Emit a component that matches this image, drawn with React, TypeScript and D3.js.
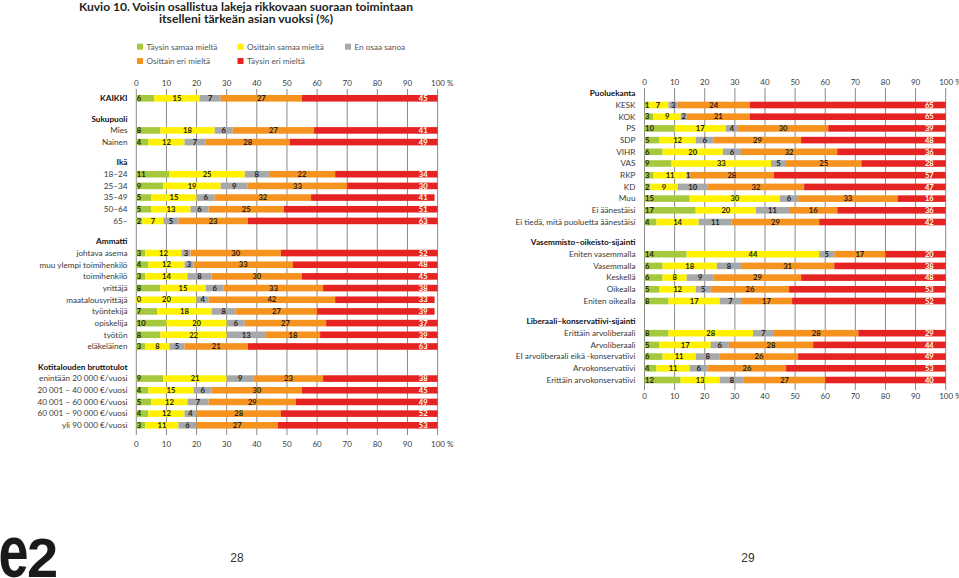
import React from 'react';
import * as d3 from 'd3';

const SERIES = ['Täysin samaa mieltä', 'Osittain samaa mieltä', 'En osaa sanoa', 'Osittain eri mieltä', 'Täysin eri mieltä'];
const COLORS = ['#a6c83c', '#fff100', '#a7a8aa', '#f6921e', '#e52421'];
const TICKS = [0, 10, 20, 30, 40, 50, 60, 70, 80, 90, 100];

// Left panel
const kaikkiLabels = ['KAIKKI'];
const kaikkiValues = [[6, 15, 7, 27, 45]];
const sukupuoliLabels = ['Mies', 'Nainen'];
const sukupuoliValues = [[8, 18, 6, 27, 41], [4, 12, 7, 28, 49]];
const ikaLabels = ['18–24', '25–34', '35–49', '50–64', '65–'];
const ikaValues = [[11, 25, 8, 22, 34], [9, 19, 9, 33, 30], [5, 15, 6, 32, 41], [5, 13, 6, 25, 51], [2, 7, 5, 23, 63]];
const ammattiLabels = ['johtava asema', 'muu ylempi toimihenkilö', 'toimihenkilö', 'yrittäjä', 'maatalousyrittäjä', 'työntekijä', 'opiskelija', 'työtön', 'eläkeläinen'];
const ammattiValues = [
  [3, 12, 3, 30, 52], [4, 12, 3, 33, 48], [3, 14, 8, 30, 45], [8, 15, 6, 33, 38], [0, 20, 4, 42, 33],
  [7, 18, 8, 27, 39], [10, 20, 6, 27, 37], [8, 22, 13, 18, 39], [3, 8, 5, 21, 63],
];
const tuloLabels = ['enintään 20 000 €/vuosi', '20 001 – 40 000 €/vuosi', '40 001 – 60 000 €/vuosi', '60 001 – 90 000 €/vuosi', 'yli 90 000 €/vuosi'];
const tuloValues = [[9, 21, 9, 23, 38], [4, 15, 6, 30, 45], [5, 12, 7, 29, 49], [4, 12, 4, 28, 52], [3, 11, 6, 27, 53]];

// Right panel
const puolueLabels = ['KESK', 'KOK', 'PS', 'SDP', 'VIHR', 'VAS', 'RKP', 'KD', 'Muu', 'Ei äänestäisi', 'Ei tiedä, mitä puoluetta äänestäisi'];
const puolueValues = [
  [1, 7, 3, 24, 65], [3, 9, 2, 21, 65], [10, 17, 4, 30, 39], [5, 12, 6, 29, 48], [6, 20, 6, 32, 36], [9, 33, 5, 25, 28],
  [3, 11, 1, 28, 57], [2, 9, 10, 32, 47], [15, 30, 6, 33, 16], [17, 20, 11, 16, 36], [4, 14, 11, 29, 42],
];
const vasOikLabels = ['Eniten vasemmalla', 'Vasemmalla', 'Keskellä', 'Oikealla', 'Eniten oikealla'];
const vasOikValues = [[14, 44, 5, 17, 20], [6, 18, 8, 31, 38], [6, 8, 9, 29, 48], [5, 12, 5, 26, 53], [8, 17, 7, 17, 52]];
const libKonsLabels = ['Erittäin arvoliberaali', 'Arvoliberaali', 'EI arvoliberaali eikä -konservatiivi', 'Arvokonservatiivi', 'Erittäin arvokonservatiivi'];
const libKonsValues = [[8, 28, 7, 28, 29], [5, 17, 6, 28, 44], [6, 11, 8, 26, 49], [4, 11, 6, 26, 53], [12, 13, 8, 27, 40]];

type Group = { heading: string | null; labels: string[]; values: number[][]; boldRows?: boolean };

const leftGroups: Group[] = [
  { heading: null, labels: kaikkiLabels, values: kaikkiValues, boldRows: true },
  { heading: 'Sukupuoli', labels: sukupuoliLabels, values: sukupuoliValues },
  { heading: 'Ikä', labels: ikaLabels, values: ikaValues },
  { heading: 'Ammatti', labels: ammattiLabels, values: ammattiValues },
  { heading: 'Kotitalouden bruttotulot', labels: tuloLabels, values: tuloValues },
];
const rightGroups: Group[] = [
  { heading: 'Puoluekanta', labels: puolueLabels, values: puolueValues },
  { heading: 'Vasemmisto–oikeisto-sijainti', labels: vasOikLabels, values: vasOikValues },
  { heading: 'Liberaali–konservatiivi-sijainti', labels: libKonsLabels, values: libKonsValues },
];

const FONT = 'Lato, "Open Sans", sans-serif';
const TXT = '#3a3a3a';

function layout(groups: Group[]) {
  let u = 0;
  const items: any[] = [];
  groups.forEach((g, gi) => {
    if (gi > 0) u += 0.75;
    if (g.heading) {
      items.push({ type: 'heading', text: g.heading, u });
      u += 1;
    }
    g.labels.forEach((lab, i) => {
      items.push({ type: 'row', text: lab, values: g.values[i], bold: !!g.boldRows, u });
      u += 1;
    });
  });
  return { items, maxU: u - 1 };
}

type PanelProps = {
  groups: Group[];
  x0: number; x1: number; y0: number; y1: number;
  labelX: number; axisTop: number; axisBottom: number; gridTop: number; gridBottom: number;
  redPad: number;
};

function Panel(p: PanelProps) {
  const { items, maxU } = layout(p.groups);
  const x = d3.scaleLinear().domain([0, 100]).range([p.x0, p.x1]);
  const y = d3.scaleLinear().domain([0, maxU]).range([p.y0, p.y1]);
  const bh = 6.6;
  return (
    <g>
      {TICKS.map((t) => (
        <line key={'g' + t} x1={x(t)} x2={x(t)} y1={p.gridTop} y2={p.gridBottom} stroke="#8a8a8a" strokeWidth={1} />
      ))}
      {[p.axisTop, p.axisBottom].map((ay, k) => (
        <g key={'ax' + k}>
          {TICKS.map((t) => (
            <text key={t} x={t === 100 ? x(t) - 6.5 : x(t)} y={ay} dy="0.35em" textAnchor={t === 100 ? 'start' : 'middle'}
              fontSize={8} fontFamily={FONT} fill={TXT}>{t === 100 ? '100 %' : String(t)}</text>
          ))}
        </g>
      ))}
      {items.map((it, i) => {
        if (it.type === 'heading') {
          return (
            <text key={i} x={p.labelX} y={y(it.u)} dy="0.35em" textAnchor="end" fontSize={8.2} fontWeight="bold"
              fontFamily={FONT} fill="#111">{it.text}</text>
          );
        }
        const vals: number[] = it.values;
        const cum = d3.cumsum(vals);
        const cy = y(it.u);
        return (
          <g key={i}>
            <text x={p.labelX} y={cy} dy="0.35em" textAnchor="end" fontSize={8.2} fontWeight={it.bold ? 'bold' : 'normal'}
              fontFamily={FONT} fill={it.bold ? '#111' : TXT}>{it.text}</text>
            {vals.map((v, j) => {
              const s = Math.min(100, j === 0 ? 0 : cum[j - 1]);
              const e = Math.min(100, cum[j]);
              return <rect key={j} x={x(s)} y={cy - bh / 2} width={Math.max(0, x(e) - x(s))} height={bh} fill={COLORS[j]} />;
            })}
            {vals.map((v, j) => {
              const s = Math.min(100, j === 0 ? 0 : cum[j - 1]);
              const e = Math.min(100, cum[j]);
              let tx: number, anchor: string, fill = '#231f20';
              if (j === 0) { tx = x(0) + 0.5; anchor = 'start'; }
              else if (j === 4) { tx = x(100) - p.redPad; anchor = 'end'; fill = '#ffffff'; }
              else { tx = (x(s) + x(e)) / 2; anchor = 'middle'; }
              return (
                <text key={'l' + j} x={tx} y={cy} dy="0.36em" textAnchor={anchor} fontSize={7.6} fontWeight="bold"
                  fontFamily={FONT} fill={fill}>{v}</text>
              );
            })}
          </g>
        );
      })}
    </g>
  );
}

const legendPos = [
  { x: 137, y: 46.7 }, { x: 237.5, y: 46.7 }, { x: 345, y: 46.7 }, { x: 137, y: 61 }, { x: 237.5, y: 61 },
];

export default function App() {
  return (
    <svg width={959} height={578} style={{ position: 'absolute', left: 0, top: 0, background: '#fff' }}>
      <rect width={959} height={578} fill="#fff" />
      <text x={246} y={10.5} textAnchor="middle" fontSize={11.5} fontWeight="bold" fontFamily={FONT} fill="#231f20"
        textLength={334} lengthAdjust="spacingAndGlyphs">Kuvio 10. Voisin osallistua lakeja rikkovaan suoraan toimintaan</text>
      <text x={246} y={22.5} textAnchor="middle" fontSize={11.5} fontWeight="bold" fontFamily={FONT} fill="#231f20"
        textLength={174} lengthAdjust="spacingAndGlyphs">itselleni tärkeän asian vuoksi (%)</text>
      {SERIES.map((s, i) => (
        <g key={s}>
          <rect x={legendPos[i].x} y={legendPos[i].y - 3} width={6} height={6} fill={COLORS[i]} />
          <text x={legendPos[i].x + 9.5} y={legendPos[i].y} dy="0.35em" fontSize={8.2} fontFamily={FONT} fill="#555">{s}</text>
        </g>
      ))}
      <Panel groups={leftGroups} x0={136.3} x1={437.6} y0={98.3} y1={425.3} labelX={127.5}
        axisTop={83.3} axisBottom={443.7} gridTop={89} gridBottom={435} redPad={10} />
      <Panel groups={rightGroups} x0={644.5} x1={945.7} y0={93.3} y1={380} labelX={635.5}
        axisTop={82.3} axisBottom={395.7} gridTop={88} gridBottom={390} redPad={12} />
      <text x={237} y={562} textAnchor="middle" fontSize={12} fontFamily="'Liberation Sans', Arial, sans-serif" fill="#333">28</text>
      <text x={748} y={562} textAnchor="middle" fontSize={12} fontFamily="'Liberation Sans', Arial, sans-serif" fill="#333">29</text>
      <g fill="#1a1a1a" fontFamily="'Liberation Sans', Arial, sans-serif" fontWeight="bold">
        <text transform="translate(-1.5,577) scale(1,1.38)" fontSize={54} letterSpacing={-3}>e</text>
        <text x={27} y={577} fontSize={56} letterSpacing={-3}>2</text>
      </g>
    </svg>
  );
}
